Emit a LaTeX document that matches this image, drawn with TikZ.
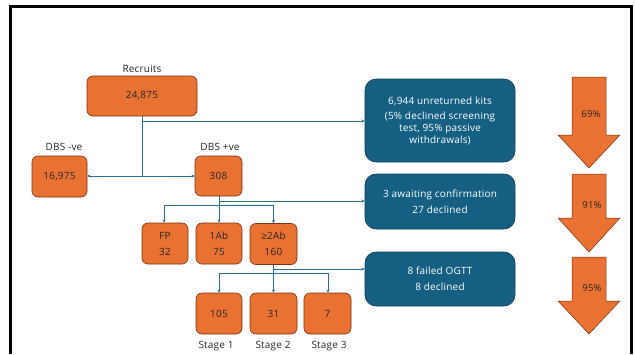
\documentclass[tikz,border=0pt]{standalone}
\usepackage{fontspec}
\setmainfont[LetterSpace=2]{Open Sans}
\usetikzlibrary{arrows.meta}
\definecolor{orng}{HTML}{E97132}
\definecolor{orngb}{HTML}{7A3412}
\definecolor{blu}{HTML}{156082}
\definecolor{blub}{HTML}{0E3F57}
\definecolor{conn}{HTML}{2A6F93}
\definecolor{txt}{HTML}{262626}
\tikzset{
  x=1pt, y=-1pt,
  obox/.style={draw=orngb, line width=0.6pt, fill=orng, rounded corners=6pt,
    inner sep=0pt, text=txt, font=\fontsize{10}{12}\selectfont, align=center},
  bbox/.style={draw=blub, line width=0.6pt, fill=blu, rounded corners=11pt,
    inner sep=0pt, text=white, font=\fontsize{10}{12}\selectfont, align=center,
    minimum width=150pt},
  lbl/.style={text=txt, font=\fontsize{10}{12}\selectfont, inner sep=0pt},
  pct/.style={text=txt, font=\fontsize{9.5}{11}\selectfont, inner sep=0pt},
  cline/.style={draw=conn, line width=0.7pt},
  carr/.style={cline, -{Stealth[length=3.2pt,width=3.2pt]}},
  barrow/.style={draw=orngb, line width=0.5pt, fill=orng},
  frame/.style={draw=black, line width=3pt}
}
\begin{document}
\begin{tikzpicture}
\useasboundingbox (0,0) rectangle (635,354);
% frame
\draw[frame] (10.5,354) -- (10.5,6) -- (631.8,6) -- (631.8,354);

% orange boxes
\node[obox, minimum width=110pt, minimum height=40pt] (rec) at (142,96) {24,875};
\node[lbl] (recl) at (142,69) {Recruits};
\node[obox, minimum width=55pt, minimum height=41pt] (neg) at (59.5,176.5) {16,975};
\node[lbl] (negl) at (64,147) {DBS -ve};
\node[obox, minimum width=47pt, minimum height=40pt] (pos) at (218.5,176) {308};
\node[lbl] (posl) at (220,147) {DBS +ve};

\node[obox, minimum width=46pt, minimum height=41pt] (fp) at (165,243.5) {FP\\[4pt]32};
\node[obox, minimum width=46pt, minimum height=41pt] (ab1) at (219,243.5) {1Ab\\[4pt]75};
\node[obox, minimum width=47pt, minimum height=41pt] (ab2) at (273.5,244) {≥2Ab\\[4pt]160};

\node[obox, minimum width=46pt, minimum height=41pt] (s1) at (219,313.5) {105};
\node[obox, minimum width=47pt, minimum height=41pt] (s2) at (273.5,313.5) {31};
\node[obox, minimum width=47pt, minimum height=41pt] (s3) at (327.5,313.5) {7};
\node[lbl] (s1l) at (216,346) {Stage 1};
\node[lbl] (s2l) at (273,346) {Stage 2};
\node[lbl] (s3l) at (329,346) {Stage 3};

% blue boxes
\node[bbox, minimum height=83pt] (unr) at (440,120.5)
  {6,944 unreturned kits\\[3pt](5\% declined screening\\test, 95\% passive\\withdrawals)};
\node[bbox, minimum height=55pt] (awt) at (440,201.5)
  {3 awaiting confirmation\\[4pt]27 declined};
\node[bbox, minimum height=54pt] (fail) at (440,279)
  {8 failed OGTT\\[4pt]8 declined};

% connectors
\coordinate (j0) at (142,121);
\coordinate (j1) at (142,176);
\draw[cline] (rec.south) -- (j1);
\draw[carr] (j0) -- (unr.west |- j0);
\draw[carr] (j1) -- (neg.east |- j1);
\draw[carr] (j1) -- (pos.west |- j1);

\coordinate (j2) at (219,201);
\coordinate (b1) at (219,205);
\draw[cline] (pos.south -| b1) -- (b1);
\draw[carr] (j2) -- (awt.west |- j2);
\coordinate (b1l) at (164,205);
\coordinate (b1r) at (273.5,205);
\draw[cline] (b1l) -- (b1r);
\draw[carr] (b1l) -- (b1l |- fp.north);
\draw[carr] (b1) -- (b1 |- ab1.north);
\draw[carr] (b1r) -- (b1r |- ab2.north);

\coordinate (j3) at (273.5,269);
\coordinate (b2) at (273.5,273);
\draw[cline] (ab2.south) -- (b2);
\draw[carr] (j3) -- (fail.west |- j3);
\coordinate (b2l) at (219,273);
\coordinate (b2r) at (328,273);
\draw[cline] (b2l) -- (b2r);
\draw[carr] (b2l) -- (b2l |- s1.north);
\draw[carr] (b2) -- (b2 |- s2.north);
\draw[carr] (b2r) -- (b2r |- s3.north);

% block arrows
\draw[barrow] (572,77) -- (606,77) -- (606,135) -- (620,135) -- (589,168) -- (558,135) -- (572,135) -- cycle;
\node[pct] (p1) at (591,114) {69\%};
\draw[barrow] (572,174) -- (606,174) -- (606,218) -- (620,218) -- (589,252) -- (558,218) -- (572,218) -- cycle;
\node[pct] (p2) at (592,205) {91\%};
\draw[barrow] (572,257) -- (606,257) -- (606,301) -- (620,301) -- (589,334) -- (558,301) -- (572,301) -- cycle;
\node[pct] (p3) at (592,288) {95\%};
\end{tikzpicture}
\end{document}
